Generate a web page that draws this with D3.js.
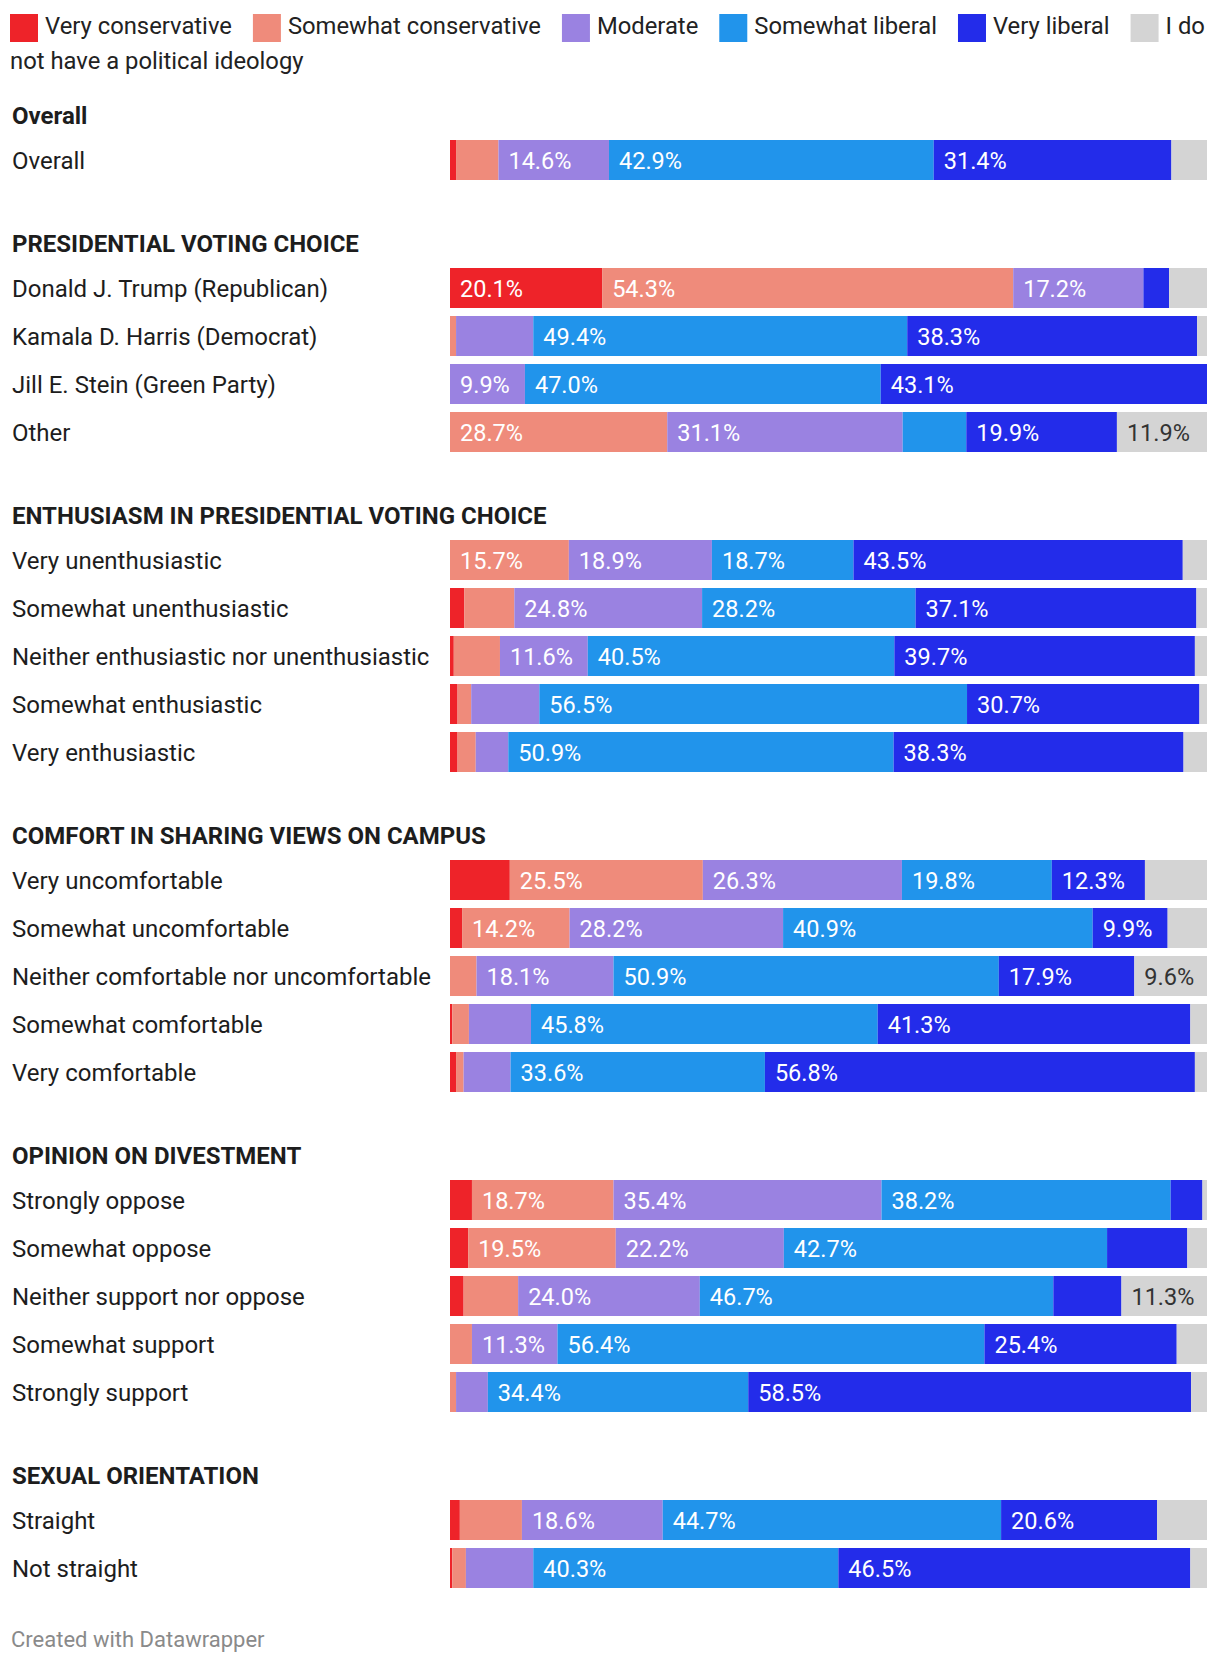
<!DOCTYPE html>
<html>
<head>
<meta charset="utf-8">
<script src="https://cdn.jsdelivr.net/npm/d3@7"></script>
<style>
  html, body { margin: 0; padding: 0; background: #fff; }
  svg { display: block; font-family: Roboto, "Noto Sans", sans-serif; }
</style>
</head>
<body>
<svg id="chart" width="1220" height="1666"></svg>
<script>
// ---------- DATA ----------
const ideologies = ["Very conservative", "Somewhat conservative", "Moderate", "Somewhat liberal", "Very liberal", "I do not have a political ideology"];
const ideologyColors = ["#ee2329", "#ef8b7b", "#9a82e1", "#2194eb", "#232cea", "#d4d4d4"];

const sectionTitles = ["Overall", "PRESIDENTIAL VOTING CHOICE", "ENTHUSIASM IN PRESIDENTIAL VOTING CHOICE", "COMFORT IN SHARING VIEWS ON CAMPUS", "OPINION ON DIVESTMENT", "SEXUAL ORIENTATION"];

const overallRows = ["Overall"];
const overallValues = [
  [0.8, 5.6, 14.6, 42.9, 31.4, 4.7]
];

const votingRows = ["Donald J. Trump (Republican)", "Kamala D. Harris (Democrat)", "Jill E. Stein (Green Party)", "Other"];
const votingValues = [
  [20.1, 54.3, 17.2, 0, 3.4, 5.0],
  [0, 0.8, 10.2, 49.4, 38.3, 1.3],
  [0, 0, 9.9, 47.0, 43.1, 0],
  [0, 28.7, 31.1, 8.4, 19.9, 11.9]
];

const enthusiasmRows = ["Very unenthusiastic", "Somewhat unenthusiastic", "Neither enthusiastic nor unenthusiastic", "Somewhat enthusiastic", "Very enthusiastic"];
const enthusiasmValues = [
  [0, 15.7, 18.9, 18.7, 43.5, 3.2],
  [1.9, 6.6, 24.8, 28.2, 37.1, 1.4],
  [0.5, 6.1, 11.6, 40.5, 39.7, 1.6],
  [1.0, 1.8, 9.0, 56.5, 30.7, 1.0],
  [1.0, 2.4, 4.3, 50.9, 38.3, 3.1]
];

const comfortRows = ["Very uncomfortable", "Somewhat uncomfortable", "Neither comfortable nor uncomfortable", "Somewhat comfortable", "Very comfortable"];
const comfortValues = [
  [7.9, 25.5, 26.3, 19.8, 12.3, 8.2],
  [1.6, 14.2, 28.2, 40.9, 9.9, 5.2],
  [0, 3.5, 18.1, 50.9, 17.9, 9.6],
  [0.3, 2.2, 8.2, 45.8, 41.3, 2.2],
  [0.8, 1.0, 6.2, 33.6, 56.8, 1.6]
];

const divestmentRows = ["Strongly oppose", "Somewhat oppose", "Neither support nor oppose", "Somewhat support", "Strongly support"];
const divestmentValues = [
  [2.9, 18.7, 35.4, 38.2, 4.2, 0.6],
  [2.4, 19.5, 22.2, 42.7, 10.6, 2.6],
  [1.8, 7.2, 24.0, 46.7, 9.0, 11.3],
  [0, 2.9, 11.3, 56.4, 25.4, 4.0],
  [0, 0.8, 4.2, 34.4, 58.5, 2.1]
];

const orientationRows = ["Straight", "Not straight"];
const orientationValues = [
  [1.3, 8.2, 18.6, 44.7, 20.6, 6.6],
  [0.3, 1.8, 8.9, 40.3, 46.5, 2.2]
];

const footerText = "Created with Datawrapper";

// ---------- LAYOUT ----------
const sections = [
  { title: sectionTitles[0], rows: overallRows, values: overallValues },
  { title: sectionTitles[1], rows: votingRows, values: votingValues },
  { title: sectionTitles[2], rows: enthusiasmRows, values: enthusiasmValues },
  { title: sectionTitles[3], rows: comfortRows, values: comfortValues },
  { title: sectionTitles[4], rows: divestmentRows, values: divestmentValues },
  { title: sectionTitles[5], rows: orientationRows, values: orientationValues }
];

const W = 1220, H = 1666;
const svg = d3.select("#chart");
svg.append("rect").attr("width", W).attr("height", H).attr("fill", "#fff");

const x = d3.scaleLinear().domain([0, 100]).range([450, 1207]);
const color = d3.scaleOrdinal().domain(d3.range(6)).range(ideologyColors);

const barH = 40, rowPitch = 48;
const firstHeaderBaseline = 124;
const headerToBar = 16;
const sectionGap = 72; // from last bar bottom to next header baseline

// ---------- LEGEND ----------
const legend = svg.append("g").attr("class", "legend");
const legendFont = 23.8;
const maxX = 1210;
let lx = 10;
const swatch = 28;
ideologies.forEach((name, i) => {
  legend.append("rect").attr("x", lx).attr("y", 14).attr("width", swatch).attr("height", swatch).attr("fill", color(i));
  const tx = lx + swatch + 7;
  if (i < ideologies.length - 1) {
    const t = legend.append("text").attr("x", tx).attr("y", 34).attr("font-size", legendFont).attr("fill", "#222").text(name);
    lx = tx + t.node().getComputedTextLength() + 21;
  } else {
    const words = name.split(" ");
    let line1 = [];
    const t = legend.append("text").attr("x", tx).attr("y", 34).attr("font-size", legendFont).attr("fill", "#222");
    let k = 0;
    for (; k < words.length; k++) {
      t.text(line1.concat(words[k]).join(" "));
      if (tx + t.node().getComputedTextLength() > maxX) break;
      line1.push(words[k]);
    }
    t.text(line1.join(" "));
    if (k < words.length) {
      legend.append("text").attr("x", 10).attr("y", 69).attr("font-size", legendFont).attr("fill", "#222").text(words.slice(k).join(" "));
    }
  }
});

// ---------- SECTIONS ----------
let headerBaseline = firstHeaderBaseline;
sections.forEach((sec) => {
  const g = svg.append("g").attr("class", "section");
  g.append("text").attr("x", 12).attr("y", headerBaseline)
    .attr("font-size", 24).attr("font-weight", 700).attr("fill", "#1d1d1d").text(sec.title);

  const barTop0 = headerBaseline + headerToBar;

  sec.rows.forEach((label, r) => {
    const top = barTop0 + r * rowPitch;
    const rowG = g.append("g");
    rowG.append("text").attr("x", 12).attr("y", top + barH / 2 + 8.5)
      .attr("font-size", 24).attr("fill", "#1d1d1d").text(label);

    const vals = sec.values[r];
    const stacked = [];
    let acc = 0;
    vals.forEach((v, i) => { stacked.push({ i, v, x0: acc, x1: acc + v }); acc += v; });

    rowG.selectAll("rect.seg").data(stacked.filter(d => d.v > 0)).join("rect")
      .attr("class", "seg")
      .attr("x", d => x(d.x0))
      .attr("y", top)
      .attr("width", d => Math.max(0, x(d.x1) - x(d.x0)))
      .attr("height", barH)
      .attr("fill", d => color(d.i));

    stacked.filter(d => d.v > 0).forEach(d => {
      const w = x(d.x1) - x(d.x0);
      const t = rowG.append("text")
        .attr("x", x(d.x0) + 10)
        .attr("y", top + barH / 2 + 8.5)
        .attr("font-size", 23.5)
        .attr("fill", d.i === 5 ? "#333" : "#fff")
        .text(d.v.toFixed(1) + "%");
      const tw = t.node().getComputedTextLength();
      if (tw + 22 > w) t.remove();
    });
  });

  headerBaseline = barTop0 + rowPitch * sec.rows.length - 8 + sectionGap;
});

// ---------- FOOTER ----------
svg.append("text").attr("x", 11).attr("y", 1647).attr("font-size", 22).attr("fill", "#8a8a8a").text(footerText);
</script>
</body>
</html>
